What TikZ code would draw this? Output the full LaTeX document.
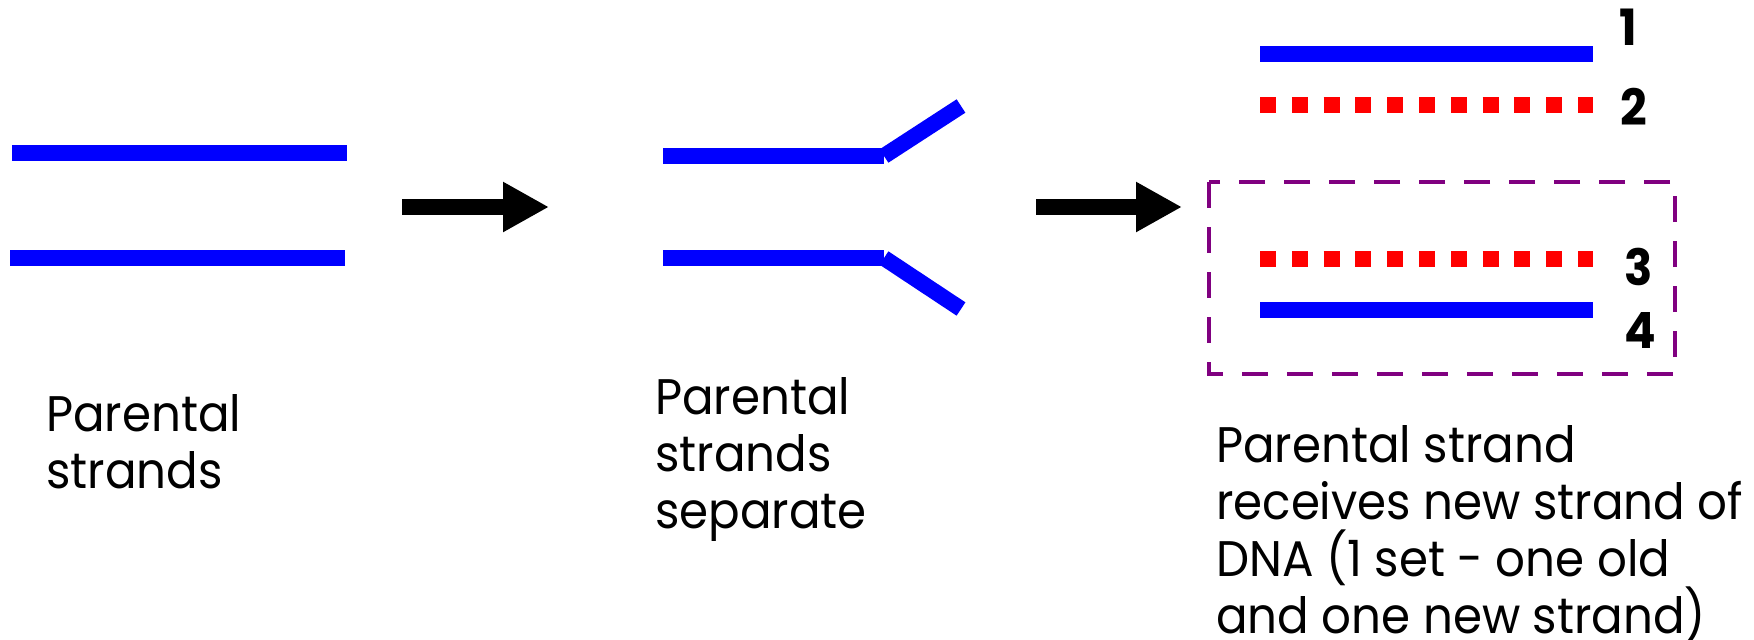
\documentclass[tikz,border=0pt]{standalone}
\usepackage{fontspec}
\setmainfont{Poppins}[FakeStretch=0.935]
\usepackage{tikz}
\usetikzlibrary{arrows.meta}

\begin{document}
\begin{tikzpicture}[x=1pt,y=-1pt,
                old/.style={draw=blue,line width=16pt},
                new/.style={draw=red,line width=16pt,dash pattern=on 15.9pt off 15.9pt},
                step arrow/.style={draw=black,line width=16pt,-{Triangle[length=46pt,width=47pt]}},
                caption/.style={anchor=base west,inner sep=0,align=left,font=\fontsize{50}{57}\selectfont},
                strandno/.style={anchor=base west,inner sep=0,font=\fontsize{50}{57}\selectfont\bfseries}
            ]
                \useasboundingbox (0,0) rectangle (1754,640);
                % parental strands
                \draw[old] (12,153) -- (347,153);
                \draw[old] (10,258) -- (345,258);
                \node[caption] (cap1) at (46,488) {Parental\\strands};
                % separation
                \draw[old] (663,156) -- (884,156);
                \draw[old] (884,156) -- (961,106);
                \draw[old] (663,258) -- (884,258);
                \draw[old] (884,258) -- (961,309);
                \node[caption] (cap2) at (655,528) {Parental\\strands\\separate};
                % steps
                \coordinate (a1s) at (402,207);
                \coordinate (a1e) at (549,207);
                \coordinate (a2s) at (1036,207);
                \coordinate (a2e) at (1182,207);
                \draw[step arrow] (a1s) -- (a1e);
                \draw[step arrow] (a2s) -- (a2e);
                % new strands
                \draw[old] (1260,54) -- (1593,54);
                \draw[new] (1260,105) -- (1593,105);
                \draw[new] (1260,259) -- (1593,259);
                \draw[old] (1260,310) -- (1593,310);
                \node[strandno] (n1) at (1619,45) {1};
                \node[strandno] (n2) at (1620,125) {2};
                \node[strandno] (n3) at (1624,285) {3};
                \node[strandno] (n4) at (1624,348) {4};
                \draw[draw={rgb,255:red,128;green,0;blue,128},line width=4.5pt,dash pattern=on 26pt off 19pt] (1209,182) rectangle (1675,374);
                \node[caption] (cap3) at (1216,633) {Parental strand\\receives new strand of\\DNA (1 set - one old\\and one new strand)};

            \end{tikzpicture}
\end{document}
